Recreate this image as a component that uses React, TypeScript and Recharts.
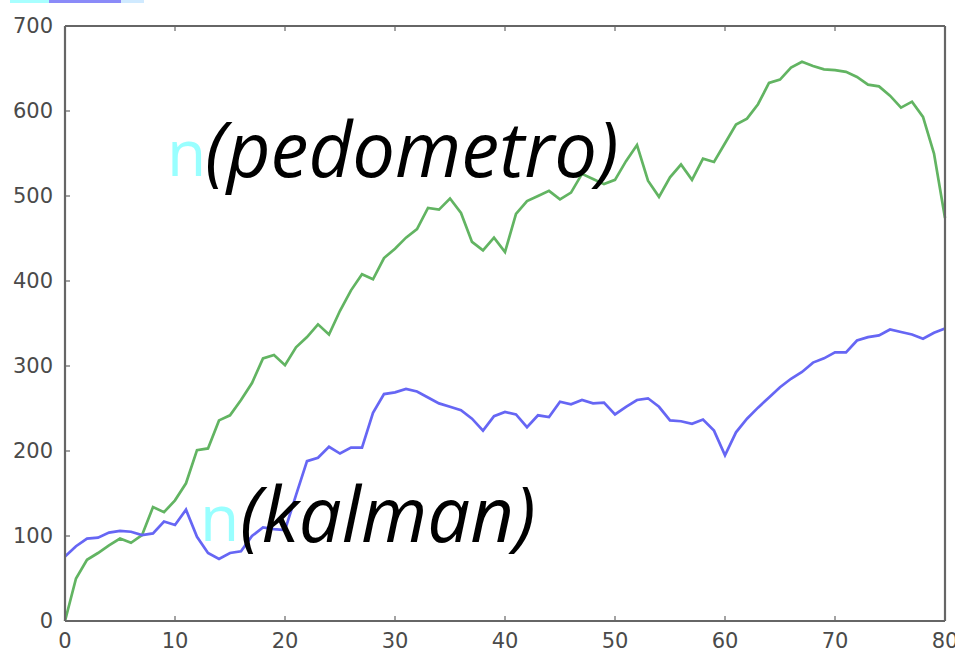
import React from "react";
import { LineChart, Line, XAxis, YAxis } from "recharts";

const pedometro: number[] = [
  0, 50, 72, 80, 89, 97, 92, 101, 134, 128,
  142, 162, 201, 203, 236, 242, 260, 280, 309, 313,
  301, 322, 334, 349, 337, 365, 389, 408, 402, 427,
  438, 451, 461, 486, 484, 497, 480, 446, 436, 451,
  434, 479, 494, 500, 506, 496, 504, 526, 520, 514,
  519, 541, 560, 518, 499, 522, 537, 519, 544, 540,
  562, 584, 591, 608, 633, 637, 651, 658, 653, 649,
  648, 646, 640, 631, 629, 618, 604, 611, 593, 550,
  474,
];

const kalman: number[] = [
  76, 88, 97, 98, 104, 106, 105, 101, 103, 117,
  113, 131, 99, 80, 73, 80, 82, 100, 110, 108,
  107, 148, 188, 192, 205, 197, 204, 204, 245, 267,
  269, 273, 270, 263, 256, 252, 248, 238, 224, 241,
  246, 243, 228, 242, 240, 258, 255, 260, 256, 257,
  243, 252, 260, 262, 252, 236, 235, 232, 237, 224,
  195, 222, 238, 251, 263, 275, 285, 293, 304, 309,
  316, 316, 330, 334, 336, 343, 340, 337, 332, 339,
  344,
];

const xTicks: number[] = [0, 10, 20, 30, 40, 50, 60, 70, 80];
const yTicks: number[] = [0, 100, 200, 300, 400, 500, 600, 700];

const data = pedometro.map((p, i) => ({ step: i, pedometro: p, kalman: kalman[i] }));

const axisStroke = { stroke: "#666666", strokeWidth: 2.2 };
const TICK_LEN = 5;
const TICK_COLOR = "#666666";
const LABEL_FILL = "#4a4a4a";
const LABEL_SIZE = 21;
const X_MARGIN = 12;
const Y_MARGIN = 12;

const BottomTick = (props: any) => {
  const { x, y, payload } = props;
  const axisY = y - X_MARGIN;
  return (
    <g>
      <line x1={x} x2={x} y1={axisY} y2={axisY - TICK_LEN} stroke={TICK_COLOR} strokeWidth={1.2} />
      <text x={x} y={y} dy="0.71em" textAnchor="middle" fill={LABEL_FILL} fontSize={LABEL_SIZE} fontFamily="DejaVu Sans">
        {payload.value}
      </text>
    </g>
  );
};

const LeftTick = (props: any) => {
  const { x, y, payload } = props;
  const axisX = x + Y_MARGIN;
  return (
    <g>
      <line x1={axisX} x2={axisX + TICK_LEN} y1={y} y2={y} stroke={TICK_COLOR} strokeWidth={1.2} />
      <text x={x} y={y} dy="0.355em" textAnchor="end" fill={LABEL_FILL} fontSize={LABEL_SIZE} fontFamily="DejaVu Sans">
        {payload.value}
      </text>
    </g>
  );
};

const TopTick = (props: any) => {
  const { x, y } = props;
  return <line x1={x} x2={x} y1={y} y2={y + TICK_LEN} stroke={TICK_COLOR} strokeWidth={1.2} />;
};

const RightTick = (props: any) => {
  const { x, y } = props;
  return <line x1={x} x2={x - TICK_LEN} y1={y} y2={y} stroke={TICK_COLOR} strokeWidth={1.2} />;
};

export default function App() {
  return (
    <div style={{ position: "absolute", left: 0, top: 0, width: 955, height: 653, background: "#fff" }}>
      <div style={{ position: "absolute", left: 10, top: 0, width: 39, height: 3, background: "#a8ffff" }} />
      <div style={{ position: "absolute", left: 49, top: 0, width: 72, height: 3, background: "#8a8af8" }} />
      <div style={{ position: "absolute", left: 121, top: 0, width: 23, height: 3, background: "#d0eaff" }} />
      <LineChart width={955} height={653} data={data} margin={{ top: 25, right: 9, bottom: 0, left: 0 }}>
        <XAxis
          dataKey="step"
          type="number"
          domain={[0, 80]}
          ticks={xTicks}
          height={32}
          tickSize={0}
          tickMargin={X_MARGIN}
          axisLine={axisStroke}
          tickLine={false}
          tick={<BottomTick />}
          interval={0}
        />
        <XAxis
          xAxisId="top"
          orientation="top"
          dataKey="step"
          type="number"
          domain={[0, 80]}
          ticks={xTicks}
          height={1}
          tickSize={0}
          tickMargin={0}
          axisLine={axisStroke}
          tickLine={false}
          tick={<TopTick />}
          interval={0}
        />
        <YAxis
          type="number"
          domain={[0, 700]}
          ticks={yTicks}
          width={65}
          tickSize={0}
          tickMargin={Y_MARGIN}
          axisLine={axisStroke}
          tickLine={false}
          tick={<LeftTick />}
          interval={0}
        />
        <YAxis
          yAxisId="right"
          orientation="right"
          type="number"
          domain={[0, 700]}
          ticks={yTicks}
          width={1}
          tickSize={0}
          tickMargin={0}
          axisLine={axisStroke}
          tickLine={false}
          tick={<RightTick />}
          interval={0}
        />
        <Line
          dataKey="pedometro"
          stroke="#62b462"
          strokeWidth={2.7}
          dot={false}
          isAnimationActive={false}
        />
        <Line
          dataKey="kalman"
          stroke="#6666f4"
          strokeWidth={2.7}
          dot={false}
          isAnimationActive={false}
        />
      </LineChart>
      <svg
        width={955}
        height={653}
        style={{ position: "absolute", left: 0, top: 0, pointerEvents: "none" }}
      >
        <text x={167} y={176} fontFamily="Open Sans" fontSize={64} fill="#99ffff">n</text>
        <text x={205} y={177} fontFamily="Open Sans" fontStyle="italic" fontSize={76} fill="#000">(pedometro)</text>
        <text x={200} y={541} fontFamily="Open Sans" fontSize={64} fill="#99ffff">n</text>
        <text x={240} y={542} fontFamily="Open Sans" fontStyle="italic" fontSize={76} fill="#000">(kalman)</text>
      </svg>
    </div>
  );
}
